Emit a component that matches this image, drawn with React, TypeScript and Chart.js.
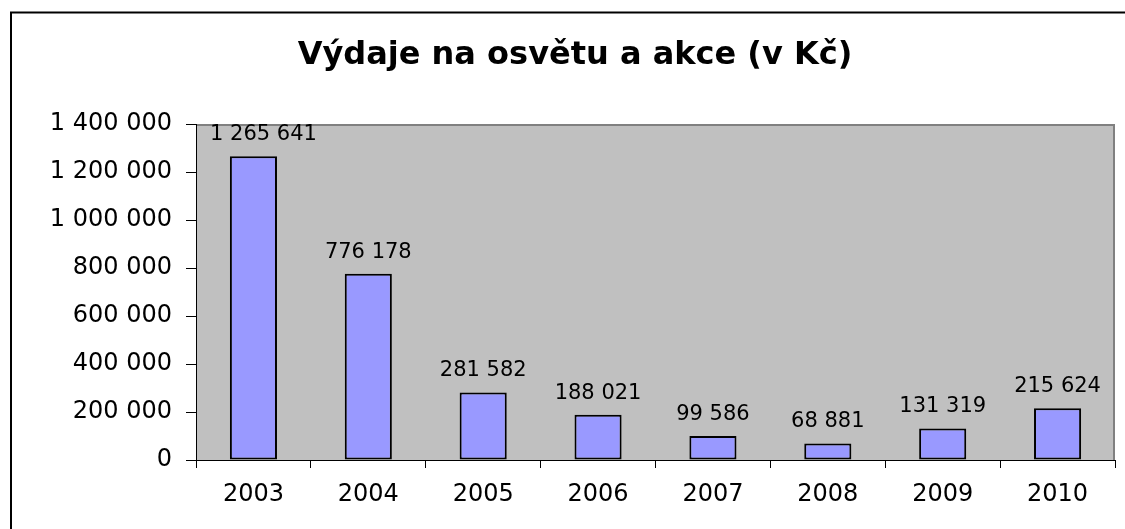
import { useEffect, useRef } from "react";
import { Chart, registerables } from "chart.js";

Chart.register(...registerables);

const TITLE = "Výdaje na osvětu a akce (v Kč)";
const YEARS = ["2003", "2004", "2005", "2006", "2007", "2008", "2009", "2010"];
const VALUES = [1265641, 776178, 281582, 188021, 99586, 68881, 131319, 215624];
const Y_MIN = 0;
const Y_MAX = 1400000;
const Y_STEP = 200000;

const BAR_COLOR = "#9999FF";
const PLOT_BG = "#C0C0C0";
const PLOT_EDGE = "#808080";
const FONT = "DejaVu Sans";

function fmt(n: number): string {
  return String(Math.round(n)).replace(/\B(?=(\d{3})+(?!\d))/g, " ");
}

const framePlugin = {
  id: "framePlugin",
  beforeDraw(chart: any) {
    const { ctx, chartArea } = chart;
    const { left, top, right, bottom } = chartArea;
    ctx.save();
    ctx.fillStyle = "#ffffff";
    ctx.fillRect(0, 0, chart.width, chart.height);
    // outer frame
    ctx.strokeStyle = "#000";
    ctx.lineWidth = 2;
    ctx.beginPath();
    ctx.moveTo(11, chart.height + 10);
    ctx.lineTo(11, 12.5);
    ctx.lineTo(chart.width + 10, 12.5);
    ctx.stroke();
    // plot area
    ctx.fillStyle = PLOT_BG;
    ctx.fillRect(left, top, right - left, bottom - top);
    ctx.strokeStyle = PLOT_EDGE;
    ctx.lineWidth = 2;
    ctx.beginPath();
    ctx.moveTo(left, top + 1);
    ctx.lineTo(right - 1, top + 1);
    ctx.lineTo(right - 1, bottom);
    ctx.stroke();
    ctx.restore();
  },
};

const labelPlugin = {
  id: "labelPlugin",
  afterDatasetsDraw(chart: any) {
    const { ctx, chartArea } = chart;
    const meta = chart.getDatasetMeta(0);
    ctx.save();
    ctx.font = `21px "${FONT}"`;
    ctx.fillStyle = "#000";
    ctx.textAlign = "center";
    ctx.textBaseline = "alphabetic";
    meta.data.forEach((el: any, i: number) => {
      const text = fmt(VALUES[i]);
      const w = ctx.measureText(text).width;
      let x = el.x;
      const minX = chartArea.left + 14 + w / 2;
      if (x < minX) x = minX;
      ctx.fillText(text, x, el.y - 16);
    });
    ctx.restore();
  },
};

const PAD_LEFT = 35;
const PAD_RIGHT = 10;

export default function App() {
  const ref = useRef<HTMLCanvasElement | null>(null);

  useEffect(() => {
    if (!ref.current) return;
    const chart = new Chart(ref.current, {
      type: "bar",
      data: {
        labels: YEARS,
        datasets: [
          {
            data: VALUES,
            backgroundColor: BAR_COLOR,
            borderColor: "#000",
            borderWidth: 2,
            borderSkipped: false,
            barPercentage: 0.41,
            categoryPercentage: 1,
          },
        ],
      },
      options: {
        responsive: false,
        animation: false,
        layout: { padding: { left: PAD_LEFT, right: PAD_RIGHT, top: 0, bottom: 0 } },
        plugins: {
          legend: { display: false },
          tooltip: { enabled: false },
          title: {
            display: true,
            text: TITLE,
            color: "#000",
            font: { family: FONT, size: 32, weight: "bold" },
            padding: { top: 36, bottom: 49.6 },
          },
        },
        scales: {
          x: {
            ticks: {
              color: "#000",
              font: { family: FONT, size: 24 },
              padding: 12,
              maxRotation: 0,
              autoSkip: false,
            },
            grid: {
              offset: true,
              drawOnChartArea: false,
              drawTicks: true,
              tickLength: 8,
              color: "#000",
            },
            border: { display: true, color: "#000", width: 1 },
            afterFit: (s: any) => {
              s.height = 69;
            },
          },
          y: {
            min: Y_MIN,
            max: Y_MAX,
            ticks: {
              stepSize: Y_STEP,
              color: "#000",
              font: { family: FONT, size: 24 },
              padding: 14,
              callback: (v: any) => fmt(Number(v)),
            },
            grid: {
              drawOnChartArea: false,
              drawTicks: true,
              tickLength: 10,
              color: "#000",
            },
            border: { display: true, color: "#000", width: 1 },
            afterFit: (s: any) => {
              s.width = 196 - PAD_LEFT;
            },
          },
        },
      },
      plugins: [framePlugin, labelPlugin],
    });
    return () => chart.destroy();
  }, []);

  return (
    <div style={{ position: "absolute", left: 0, top: 0, width: 1125, height: 529, background: "#fff" }}>
      <canvas ref={ref} width={1125} height={529} />
    </div>
  );
}
